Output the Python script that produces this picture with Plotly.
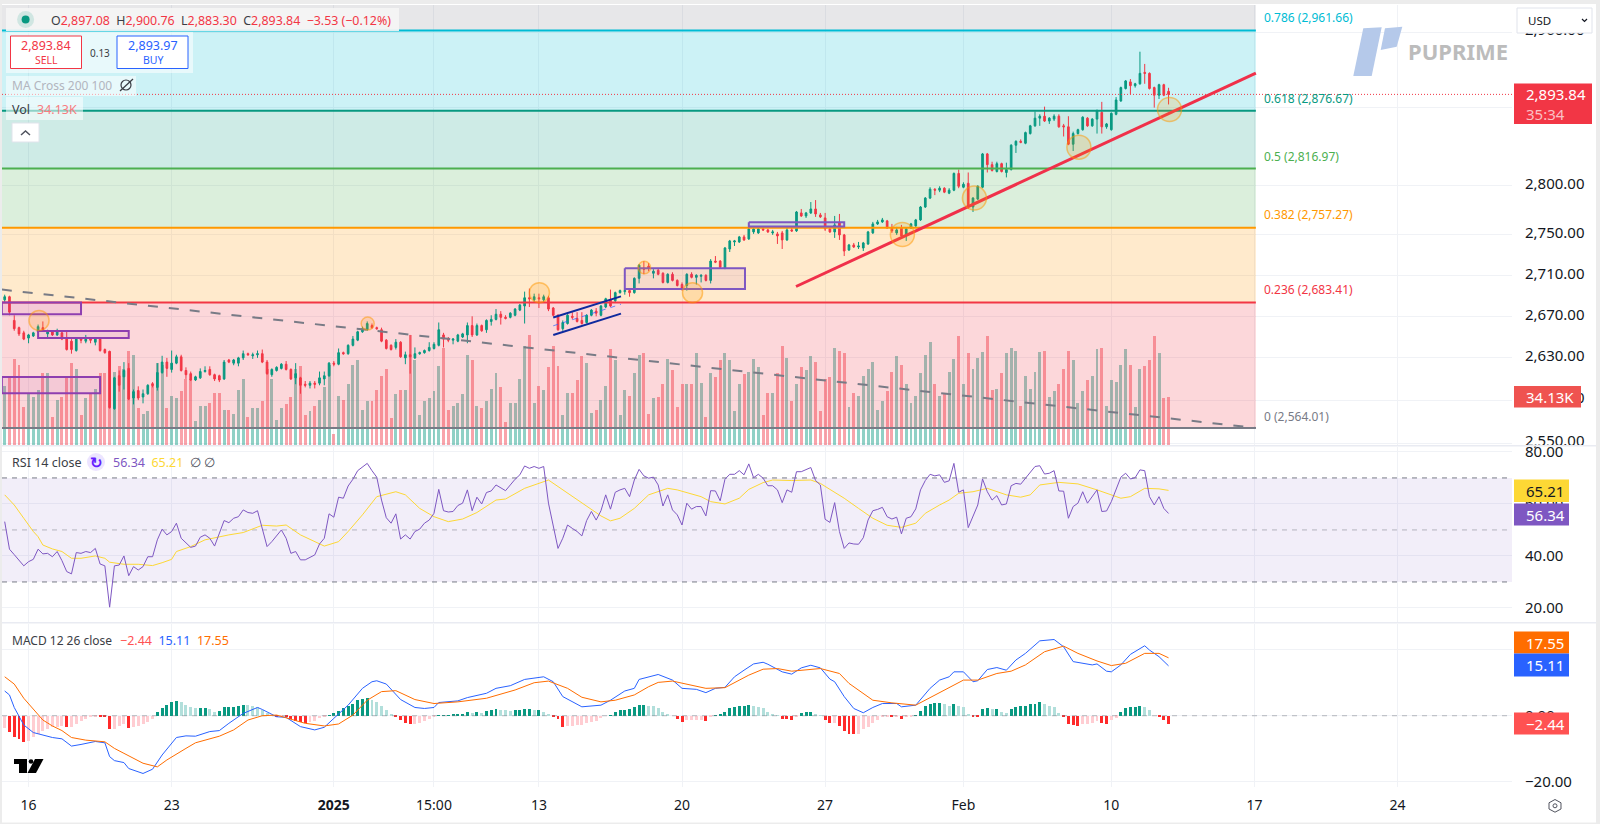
import plotly.graph_objects as go

# ---------- candle data (4H XAUUSD) ----------
opens = [2686,2689,2666,2659,2654,2649,2651,2655,2659,2653,2655,2652,2654,2649,2646,2637,2648,2646,2648,2645,
2648,2638,2636,2582,2613,2612,2620,2592,2599,2593,2596,2605,2602,2616,2626,2619,2625,2631,2618,2615,
2609,2611,2617,2619,2614,2613,2610,2628,2625,2625,2630,2634,2632,2633,2634,2626,2614,2618,2620,2624,
2619,2611,2611,2605,2604,2606,2606,2610,2613,2625,2624,2635,2634,2642,2647,2655,2657,2661,2659,2657,
2647,2642,2640,2645,2630,2633,2630,2634,2635,2637,2639,2642,2652,2648,2647,2646,2650,2652,2661,2652,
2661,2657,2665,2667,2672,2669,2669,2671,2676,2680,2688,2686,2688,2686,2688,2678,2671,2658,2663,2670,
2668,2666,2664,2671,2675,2671,2679,2686,2685,2693,2694,2695,2693,2707,2717,2719,2712,2715,2712,2703,
2711,2705,2701,2700,2711,2708,2709,2710,2705,2724,2724,2717,2736,2743,2743,2748,2746,2753,2752,2756,
2755,2752,2751,2752,2745,2755,2754,2772,2769,2772,2776,2770,2767,2756,2753,2762,2750,2735,2740,2738,
2737,2741,2752,2761,2763,2764,2757,2752,2757,2749,2757,2759,2765,2778,2787,2796,2795,2797,2792,2795,
2812,2798,2802,2778,2786,2798,2832,2821,2814,2822,2813,2816,2841,2845,2843,2853,2861,2869,2871,2866,
2868,2871,2861,2860,2842,2853,2857,2869,2861,2868,2875,2860,2857,2873,2887,2900,2907,2903,2905,2917,
2916,2901,2893,2904,2897.08]
highs = [2691,2690,2671,2660,2656,2653,2655,2662,2665,2657,2656,2658,2655,2655,2648,2649,2650,2652,2650,2650,
2650,2639,2637,2612,2618,2626,2625,2600,2603,2600,2605,2607,2625,2632,2630,2637,2633,2633,2621,2617,
2613,2620,2622,2622,2615,2614,2628,2629,2629,2631,2637,2635,2635,2637,2638,2628,2620,2622,2625,2627,
2620,2625,2612,2608,2608,2608,2617,2617,2626,2627,2639,2636,2643,2651,2656,2660,2665,2663,2660,2659,
2648,2643,2648,2646,2636,2652,2640,2636,2638,2645,2645,2664,2654,2650,2649,2653,2654,2664,2670,2663,
2662,2667,2671,2677,2675,2671,2674,2678,2682,2694,2697,2692,2692,2691,2690,2679,2672,2666,2672,2674,
2674,2674,2672,2677,2678,2681,2688,2696,2694,2696,2696,2696,2708,2721,2724,2722,2716,2717,2713,2712,
2713,2706,2703,2712,2713,2711,2711,2711,2726,2729,2725,2738,2745,2745,2749,2750,2760,2758,2757,2757,
2756,2755,2753,2754,2757,2757,2774,2776,2773,2783,2785,2772,2772,2757,2769,2771,2751,2741,2742,2743,
2743,2754,2763,2765,2767,2765,2761,2758,2760,2757,2762,2766,2779,2788,2798,2797,2799,2798,2797,2813,
2816,2803,2813,2788,2800,2833,2833,2824,2824,2823,2823,2842,2846,2847,2855,2862,2876,2873,2881,2870,
2873,2873,2863,2871,2855,2858,2871,2870,2869,2878,2886,2864,2875,2891,2902,2909,2910,2906,2939,2926,
2917,2902,2905,2905,2900.76]
lows = [2684,2671,2656,2651,2647,2644,2650,2654,2656,2649,2651,2651,2647,2637,2634,2636,2644,2644,2644,2642,
2636,2634,2582,2581,2598,2600,2590,2586,2590,2587,2595,2602,2599,2615,2612,2616,2624,2617,2610,2608,
2608,2610,2616,2613,2608,2607,2609,2625,2623,2622,2628,2632,2629,2630,2625,2614,2612,2617,2619,2618,
2609,2605,2596,2602,2601,2601,2604,2604,2612,2622,2623,2633,2633,2641,2646,2654,2656,2658,2657,2645,
2638,2637,2638,2630,2624,2615,2629,2633,2634,2636,2638,2641,2640,2645,2643,2645,2649,2644,2650,2651,
2655,2654,2661,2666,2662,2667,2668,2670,2675,2663,2679,2684,2678,2684,2675,2670,2656,2656,2662,2667,
2664,2662,2663,2670,2670,2670,2678,2679,2683,2692,2691,2689,2692,2702,2711,2714,2707,2710,2702,2702,
2704,2699,2695,2695,2707,2701,2703,2704,2702,2722,2717,2716,2733,2739,2742,2744,2745,2751,2751,2754,
2752,2750,2741,2736,2744,2753,2753,2768,2767,2771,2768,2767,2754,2752,2747,2745,2729,2734,2737,2736,
2734,2740,2751,2760,2762,2756,2752,2750,2747,2744,2756,2758,2764,2777,2786,2790,2793,2792,2791,2794,
2797,2797,2776,2773,2785,2797,2813,2814,2813,2813,2808,2815,2833,2843,2842,2852,2860,2861,2865,2863,
2866,2859,2850,2841,2835,2852,2856,2860,2860,2853,2853,2858,2856,2872,2886,2899,2894,2901,2904,2905,
2899,2880,2889,2892,2883.30]
closes = [2689,2674,2658,2653,2648,2652,2654,2660,2657,2655,2652,2656,2648,2638,2638,2648,2647,2648,2647,2648,
2637,2635,2583,2611,2604,2618,2591,2598,2592,2596,2604,2604,2616,2626,2620,2625,2631,2618,2614,2609,
2612,2617,2618,2614,2610,2609,2626,2626,2628,2630,2634,2633,2633,2634,2626,2615,2619,2621,2624,2619,
2610,2615,2604,2604,2606,2605,2611,2613,2625,2624,2635,2634,2642,2648,2655,2658,2663,2659,2658,2646,
2639,2638,2645,2631,2633,2631,2634,2635,2637,2640,2643,2657,2648,2647,2648,2652,2653,2661,2652,2661,
2656,2666,2667,2672,2669,2668,2673,2677,2681,2688,2687,2689,2687,2689,2677,2671,2657,2664,2671,2669,
2665,2663,2671,2676,2673,2680,2687,2680,2693,2695,2695,2693,2707,2720,2716,2717,2714,2711,2703,2711,
2705,2700,2697,2711,2708,2710,2710,2705,2724,2723,2718,2737,2744,2744,2748,2745,2756,2756,2756,2755,
2753,2753,2749,2745,2755,2754,2773,2769,2772,2776,2771,2768,2756,2753,2760,2750,2734,2740,2738,2739,
2742,2753,2761,2763,2765,2757,2754,2755,2749,2756,2761,2765,2778,2787,2796,2795,2797,2793,2795,2812,
2799,2801,2778,2787,2799,2832,2821,2815,2822,2814,2816,2841,2845,2844,2854,2861,2869,2871,2866,2869,
2871,2860,2860,2842,2853,2857,2870,2861,2868,2877,2860,2863,2874,2888,2901,2908,2903,2905,2916,2916,
2900,2893,2904,2893,2893.84]
volumes_k = [42,49,61,57,27,37,34,39,51,51,20,32,34,48,58,54,21,33,37,40,
51,51,67,52,56,54,67,64,26,22,24,44,58,57,26,35,33,38,47,47,
17,28,28,30,37,37,25,25,22,39,47,20,26,26,31,54,47,18,26,29,
34,54,56,21,24,28,32,41,57,8,35,32,43,57,60,25,31,31,39,49,
54,19,36,39,39,78,60,21,31,33,38,56,69,25,28,30,36,64,60,28,
26,31,40,51,41,16,30,30,47,70,78,30,42,39,55,70,56,21,37,37,
46,63,58,23,25,32,42,68,60,21,39,35,51,64,65,22,33,34,43,61,
53,27,43,43,43,65,44,20,51,48,60,65,60,24,43,50,52,61,55,21,
37,37,51,70,62,31,43,55,53,63,59,24,47,48,69,67,65,27,37,35,
49,54,59,25,31,38,52,63,57,43,30,35,51,64,73,43,35,37,52,61,
77,43,65,54,62,66,77,39,40,51,65,69,67,28,49,40,52,66,67,34,
38,43,54,67,60,30,38,46,49,68,69,28,46,45,57,68,57,27,54,56,
60,77,65,33,34.13]

# ---------- RSI / MACD data ----------
rsi_values = [53.2,42.6,40.5,38.3,36.2,37.8,38.7,42.6,40.8,41.0,39.7,41.7,38.2,34.0,33.1,41.3,41.0,41.7,41.3,42.9,
36.9,36.2,20.3,36.2,36.5,40.0,32.4,35.9,34.6,35.9,39.7,39.7,46.2,50.3,48.1,49.4,52.6,46.8,44.9,43.3,
43.8,47.2,48.1,46.8,43.8,48.7,53.6,52.8,54.5,55.1,57.7,56.7,56.4,57.4,50.6,43.6,45.5,47.7,50.0,46.8,
41.0,41.7,38.5,38.5,39.5,40.4,44.6,46.8,56.2,54.9,62.6,62.2,66.9,69.5,72.8,74.1,75.6,72.8,70.3,61.5,
54.7,52.6,56.2,46.5,48.1,46.5,49.4,50.3,52.6,53.8,56.4,65.6,57.4,56.9,57.1,59.4,60.3,65.4,57.4,62.6,
60.0,64.4,65.0,67.3,66.3,65.1,67.3,69.5,71.2,74.6,73.7,74.4,73.7,74.4,60.3,51.3,42.9,46.8,51.9,50.6,
49.4,47.7,53.6,57.1,53.8,57.4,63.5,58.0,64.5,65.4,66.0,62.8,69.2,73.3,70.8,69.9,70.3,67.3,59.2,63.5,
57.7,55.8,51.9,60.3,58.0,59.0,59.0,55.4,65.1,65.0,61.2,69.5,71.4,71.4,72.8,71.2,75.4,70.1,71.4,69.9,
67.0,67.0,65.4,60.5,65.4,64.5,72.4,72.4,73.1,74.0,69.0,67.3,54.1,52.9,60.5,49.4,42.9,45.0,44.6,44.5,
47.0,53.8,57.4,57.9,58.7,55.1,54.2,54.9,48.5,54.5,55.1,58.1,65.4,69.0,71.4,70.8,71.2,68.3,68.9,75.6,
64.5,65.4,50.9,55.4,59.6,69.6,64.7,61.5,63.2,59.6,60.0,67.0,67.9,67.6,69.9,71.8,74.4,74.7,71.5,71.8,
72.8,65.0,64.9,54.5,59.0,60.3,64.7,60.3,62.8,65.4,57.1,57.3,60.9,65.4,70.3,71.8,69.6,70.1,73.1,72.8,
62.8,59.6,62.8,58.3,56.34]
rsi_ma_index = [0,2,4,6,7,8,10,12,14,16,19,21,22,25,28,31,33,35,36,39,42,45,47,50,54,57,59,62,67,70,72,75,78,82,84,87,90,93,96,99,103,105,109,114,117,120,123,
125,127,129,132,135,139,141,146,148,151,154,156,159,161,165,169,171,173,176,179,182,185,188,191,193,196,198,200,203,206,210,213,215,217,221,225,229,234,236,239,242,244]
rsi_ma_values = [63.5,59.6,54.5,49.4,47.4,44.2,42.7,41.7,39.1,39.1,40.0,39.1,37.6,36.8,36.8,36.3,37.4,38.7,41.7,43.6,46.2,47.4,48.1,49.0,51.8,51.5,51.9,48.1,43.8,45.5,49.4,55.8,62.8,64.7,63.5,58.3,55.1,53.2,54.2,56.7,61.5,61.9,66.0,69.2,65.4,61.8,57.7,
55.4,53.5,54.5,58.3,63.5,66.0,65.4,62.8,60.9,60.0,62.2,65.6,68.2,69.2,69.0,69.2,67.9,65.6,62.2,58.3,54.5,51.8,51.0,52.6,56.4,59.6,61.5,64.1,64.7,66.0,63.5,62.6,63.5,67.3,68.3,67.7,65.4,62.2,62.8,66.0,65.8,65.21]
macd_index = [0,1,2,4,6,8,10,12,14,16,19,21,22,23,25,26,29,31,33,36,38,40,43,45,47,50,53,54,57,59,62,65,67,69,72,75,77,78,80,83,86,88,90,91,95,97,101,103,106,109,113,115,117,121,
125,127,130,132,133,137,140,142,145,147,149,151,153,155,157,159,160,163,165,167,169,171,173,174,176,178,180,182,184,187,188,191,194,196,198,199,201,203,204,206,208,210,212,214,217,220,222,224,228,229,231,232,234,236,239,240,242,244]
macd_values = [7.5,6.3,2.5,-2.8,-5.1,-5.9,-6.6,-7.0,-9.2,-8.7,-7.8,-8.2,-12.4,-13.6,-14.2,-16.0,-17.5,-16.2,-11.9,-6.6,-6.1,-6.2,-4.8,-4.5,-2.3,0.7,2.5,1.9,-0.3,-0.5,-3.3,-4.3,-3.5,-0.8,3.2,8.3,10.3,10.6,9.6,4.9,2.5,2.2,2.5,4.0,4.5,5.5,6.8,8.3,9.1,11.0,11.8,10.3,5.8,2.7,
3.2,4.7,7.5,8.3,11.0,12.5,10.8,8.3,8.0,7.0,8.3,8.6,11.8,13.8,15.7,16.2,15.6,13.3,12.6,14.5,15.3,14.5,11.1,10.3,5.8,2.2,0.9,2.5,3.7,3.7,2.7,3.2,8.3,10.8,11.8,13.3,13.3,10.3,10.6,14.0,14.6,13.8,16.9,18.9,22.7,23.1,20.9,16.4,15.4,15.7,13.5,13.3,15.4,18.6,21.2,19.9,17.9,15.11]
signal_index = [0,2,4,6,8,10,12,14,17,21,23,25,29,32,34,38,40,45,48,51,54,57,60,63,67,70,73,76,79,82,86,90,95,101,107,111,114,118,121,
125,128,132,135,137,140,147,151,156,159,162,165,171,175,177,182,186,191,195,201,204,208,211,214,218,222,225,229,232,235,239,242,244]
signal_values = [11.8,9.6,5.3,1.9,-1.3,-3.1,-4.5,-6.6,-7.4,-7.9,-9.9,-11.4,-14.4,-15.5,-13.4,-9.9,-8.2,-6.2,-4.3,-1.3,0.0,0.2,-1.1,-2.3,-3.1,-2.5,0.2,4.7,7.3,7.6,4.9,3.7,4.2,5.3,7.8,10.0,10.5,8.3,5.6,
4.2,4.7,6.3,8.8,10.1,10.5,8.3,8.5,12.3,14.1,14.3,13.5,14.3,12.8,9.8,4.7,3.9,3.2,6.3,10.8,10.8,12.8,13.5,15.4,19.4,21.1,18.9,16.6,15.2,15.9,18.9,18.9,17.55]
hist_values = [-3.8,-5.0,-6.4,-7.2,-7.9,-7.6,-6.4,-5.4,-4.5,-4.0,-3.5,-3.3,-3.1,-3.5,-3.5,-2.6,-1.6,-0.9,-0.3,-0.1,
-0.3,-0.5,-4.0,-4.0,-3.1,-2.5,-3.8,-3.5,-3.1,-2.6,-1.8,-1.1,1.0,2.4,3.4,4.2,4.6,4.2,3.2,2.7,
2.2,2.2,2.2,1.9,1.2,1.5,2.5,2.5,2.7,3.1,3.3,3.2,3.0,2.5,1.7,0.9,0.2,-0.2,-0.1,-0.5,
-1.1,-1.5,-1.8,-2.1,-2.0,-1.6,-0.8,-0.4,0.2,0.7,1.4,2.4,3.0,3.7,4.7,5.0,5.5,4.9,4.2,2.9,
1.7,0.3,-0.1,-1.3,-2.3,-2.5,-2.5,-2.1,-1.6,-1.1,-0.3,0.2,0.2,0.2,0.3,0.4,0.6,1.1,0.7,1.2,
0.9,1.5,1.7,1.9,1.7,1.6,1.5,1.7,1.7,1.9,1.9,1.7,1.7,1.2,0.3,-0.1,-1.1,-3.3,-3.1,-3.1,
-2.8,-2.8,-2.3,-1.8,-1.6,-0.8,0.0,0.2,1.2,1.6,1.8,1.9,2.5,3.3,3.3,3.1,2.9,2.2,1.0,0.4,
0.0,-1.1,-1.8,-1.3,-1.3,-1.3,-1.3,-1.7,-0.3,0.2,0.4,1.2,2.2,2.7,3.0,3.0,3.4,2.9,2.7,2.2,
1.2,0.5,0.1,-0.9,-1.1,-1.2,-0.1,0.7,1.0,1.0,0.6,0.1,-1.3,-2.3,-2.3,-3.1,-4.5,-5.4,-5.6,-5.4,
-4.1,-3.5,-2.3,-1.3,-0.5,-0.3,-0.4,-0.2,-0.9,-0.4,-0.2,0.2,1.3,2.9,3.5,3.9,3.9,3.5,2.9,3.5,
2.9,2.5,0.3,-0.1,-0.5,1.9,2.2,1.9,1.9,1.2,0.7,1.9,2.5,2.9,2.9,3.5,3.7,4.2,3.5,2.9,
2.5,0.9,-0.2,-2.5,-2.8,-3.1,-2.5,-2.5,-2.1,-1.6,-2.3,-2.5,-1.3,-0.6,1.0,2.2,2.5,2.5,3.0,2.7,
1.7,0.0,-0.4,-1.3,-2.44]

# ---------- fibonacci levels and drawings ----------
fib_ratios = ["0.786", "0.618", "0.5", "0.382", "0.236", "0"]
fib_levels = [2961.66, 2876.67, 2816.97, 2757.27, 2683.41, 2564.01]
fib_colors = ["#00bcd4", "#089981", "#4caf50", "#ff9800", "#f23645", "#787b86"]
price_ticks = [2550, 2590, 2630, 2670, 2710, 2750, 2800, 2880, 2960]
price_tick_labels = ["2,550.00", "2,590.00", "2,630.00", "2,670.00", "2,710.00", "2,750.00", "2,800.00", "", "2,960.00"]
rsi_ticks = [20, 40, 60, 80]
rsi_tick_labels = ["20.00", "40.00", "60.00", "80.00"]
macd_ticks = [-20, 0, 20]
macd_tick_labels = ["−20.00", "0.00", ""]
time_tick_index = [5, 35, 69, 90, 112, 142, 172, 201, 232, 262, 292]
time_tick_labels = ["16", "23", "<b>2025</b>", "15:00", "13", "20", "27", "Feb", "10", "17", "24"]
circle_index = [7.2, 76.1, 112.1, 134.1, 144.2, 188.2, 203.3, 225.2, 244.2]
circle_price = [2666, 2663, 2693, 2717.6, 2693, 2750.4, 2787, 2839, 2878]
circle_size = [20, 13, 20, 12.5, 20, 24, 24, 24, 24]
box_index = [(-0.6, 16), (7, 26), (-0.6, 20), (130, 155.2), (156, 176)]
box_price = [(2683.4, 2672), (2655.7, 2649), (2611.8, 2596.5), (2716.9, 2696.5), (2762.7, 2758.3)]
box_colors = ["#8e3fb0", "#8e3fb0", "#8e3fb0", "#7e57c2", "#7e57c2"]
trend_down_index = [-0.6, 262.3]
trend_down_price = [2696, 2564]
trend_up_index = [165.9, 262.3]
trend_up_price = [2699, 2916.3]
channel_index = [115, 129.2]
channel_upper = [2668.8, 2689.4]
channel_lower = [2651.9, 2672.6]
channel_mid = [2660.8, 2681.7]
last_price = 2893.84

# ---------- page geometry helpers (page furniture only) ----------
W, H = 1600, 824
px = lambda x: x / W
py = lambda y: 1 - y / H
X_L, X_R = -0.566, 316.0
FIB_END = 262.3
FONT = "Noto Sans"
idx = list(range(len(closes)))

fig = go.Figure()

# volume sits beneath the fibonacci fills
vol_cols = ["rgba(8,153,129,0.45)" if c >= o else "rgba(242,54,69,0.45)" for o, c in zip(opens, closes)]
fig.add_trace(go.Bar(x=idx, y=volumes_k, width=0.62, marker=dict(color=vol_cols, line_width=0), xaxis="x", yaxis="y", hoverinfo="skip"))

# fibonacci fills
fills = [(3000, fib_levels[0], "rgba(120,123,134,0.18)")]
fill_cols = ["rgba(0,188,212,0.2)", "rgba(8,153,129,0.2)", "rgba(76,175,80,0.2)", "rgba(255,152,0,0.2)", "rgba(242,54,69,0.2)"]
for a, b, c in zip(fib_levels[:-1], fib_levels[1:], fill_cols):
    fills.append((a, b, c))
for a, b, c in fills:
    fig.add_trace(go.Scatter(x=[X_L, FIB_END, FIB_END, X_L, X_L], y=[a, a, b, b, a], fill="toself", fillcolor=c,
                             mode="none", xaxis="x", yaxis="y2", hoverinfo="skip"))

# candles
fig.add_trace(go.Candlestick(x=idx, open=opens, high=highs, low=lows, close=closes, xaxis="x", yaxis="y3",
                             increasing=dict(line=dict(color="#089981", width=1), fillcolor="#089981"),
                             decreasing=dict(line=dict(color="#f23645", width=1), fillcolor="#f23645"),
                             whiskerwidth=0, hoverinfo="skip"))

def line3(x, y, color, width, dash="solid"):
    fig.add_trace(go.Scatter(x=x, y=y, mode="lines", line=dict(color=color, width=width, dash=dash), xaxis="x", yaxis="y3", hoverinfo="skip"))

# fib lines
for lv, c in zip(fib_levels, fib_colors):
    line3([X_L, FIB_END], [lv, lv], c, 2)
# boxes
for (i0, i1), (p0, p1), bc in zip(box_index, box_price, box_colors):
    fig.add_trace(go.Scatter(x=[i0, i1, i1, i0, i0], y=[p0, p0, p1, p1, p0], mode="lines", fill="toself",
                             fillcolor="rgba(156,39,176,0.08)", line=dict(color=bc, width=2), xaxis="x", yaxis="y3", hoverinfo="skip"))
# trend lines
line3(trend_down_index, trend_down_price, "#787b86", 2, "10px,11px")
line3(channel_index, channel_upper, "#0f2a9e", 2)
line3(channel_index, channel_lower, "#0f2a9e", 2)
line3(channel_index, channel_mid, "rgba(41,98,255,0.7)", 1, "5px,5px")
line3(trend_up_index, trend_up_price, "#f0304a", 3)
line3([X_L, X_R], [last_price, last_price], "#f23645", 1, "1px,2px")
# circles
fig.add_trace(go.Scatter(x=circle_index, y=circle_price, mode="markers", xaxis="x", yaxis="y3", hoverinfo="skip",
                         marker=dict(size=circle_size, color="rgba(255,152,0,0.25)", line=dict(color="rgba(255,152,0,0.75)", width=1.5))))

# RSI pane
fig.add_trace(go.Scatter(x=[X_L, X_R, X_R, X_L, X_L], y=[70, 70, 30, 30, 70], fill="toself", fillcolor="rgba(126,87,194,0.1)",
                         mode="none", xaxis="x2", yaxis="y4", hoverinfo="skip"))
for lv, col in [(70, "#787b86"), (50, "rgba(120,123,134,0.5)"), (30, "#787b86")]:
    fig.add_trace(go.Scatter(x=[X_L, X_R], y=[lv, lv], mode="lines", line=dict(color=col, width=1, dash="5px,5px"), xaxis="x2", yaxis="y4", hoverinfo="skip"))
fig.add_trace(go.Scatter(x=rsi_ma_index, y=rsi_ma_values, mode="lines", line=dict(color="#fdd835", width=1), xaxis="x2", yaxis="y4", hoverinfo="skip"))
fig.add_trace(go.Scatter(x=idx, y=rsi_values, mode="lines", line=dict(color="#7e57c2", width=1), xaxis="x2", yaxis="y4", hoverinfo="skip"))

# MACD pane
hist_cols = []
for k, v in enumerate(hist_values):
    prev = hist_values[k - 1] if k else v
    if v >= 0:
        hist_cols.append("#089981" if v >= prev else "#b2dfdb")
    else:
        hist_cols.append("#ffcdd2" if v >= prev else "#ff2a2a")
fig.add_trace(go.Scatter(x=[X_L, X_R], y=[0, 0], mode="lines", line=dict(color="rgba(120,123,134,0.5)", width=1, dash="5px,5px"), xaxis="x3", yaxis="y5", hoverinfo="skip"))
fig.add_trace(go.Bar(x=idx, y=hist_values, width=0.62, marker=dict(color=hist_cols, line_width=0), xaxis="x3", yaxis="y5", hoverinfo="skip"))
fig.add_trace(go.Scatter(x=macd_index, y=macd_values, mode="lines", line=dict(color="#2962ff", width=1), xaxis="x3", yaxis="y5", hoverinfo="skip"))
fig.add_trace(go.Scatter(x=signal_index, y=signal_values, mode="lines", line=dict(color="#ff6d00", width=1), xaxis="x3", yaxis="y5", hoverinfo="skip"))

# ---------- page furniture ----------
shapes = []
def rect(x0, y0, x1, y1, fill="white", line=None, lw=1, layer="above"):
    shapes.append(dict(type="rect", xref="paper", yref="paper", x0=px(x0), x1=px(x1), y0=py(y0), y1=py(y1), layer=layer,
                       fillcolor=fill, line=dict(color=line or "rgba(0,0,0,0)", width=lw if line else 0)))
def poly(pts, fill=None, line=None, lw=1, close=True):
    d = "M" + " L".join(f"{px(a):.5f},{py(b):.5f}" for a, b in pts) + (" Z" if close else "")
    shapes.append(dict(type="path", xref="paper", yref="paper", path=d, layer="above", fillcolor=fill or "rgba(0,0,0,0)",
                       line=dict(color=line or "rgba(0,0,0,0)", width=lw if line else 0)))
def circ(cx, cy, r, fill=None, line=None, lw=1):
    shapes.append(dict(type="circle", xref="paper", yref="paper", x0=px(cx - r), x1=px(cx + r), y0=py(cy - r), y1=py(cy + r), layer="above",
                       fillcolor=fill or "rgba(0,0,0,0)", line=dict(color=line or "rgba(0,0,0,0)", width=lw if line else 0)))

rect(2, 4, 1596, 822.5, "white", layer="below")
rect(2, 445, 1596, 446.5, "#e9ebf2")
rect(2, 622, 1596, 623.5, "#e9ebf2")
# legend backgrounds
LB = "rgba(255,255,255,0.55)"
rect(6, 8, 399, 31, "rgba(245,245,245,0.9)")
rect(6, 32, 193, 73, LB)
rect(6, 76, 136, 96, LB)
rect(6, 97, 83, 120, LB)
# order boxes
rect(10.5, 36, 81.5, 68.5, "white", "#f23645", 1)
rect(117, 36, 188, 68.5, "white", "#2962ff", 1)
rect(12, 123, 39, 142, "white", "#e0e3eb", 1)
poly([(21, 135), (25.5, 131), (30, 135)], line="#50535e", lw=1.5, close=False)
# status dot
circ(25.6, 19.6, 8.5, "rgba(8,153,129,0.15)")
circ(25.6, 19.6, 4, "#089981")
# eye icon
circ(126, 85, 5, None, "#3a3d45", 1.2)
poly([(120, 91), (133, 79)], line="#3a3d45", lw=1.3, close=False)
# USD box
rect(1517, 8, 1592, 33, "white", "#e0e3eb", 1)
poly([(1582, 19), (1584.5, 21.5), (1587, 19)], line="#131722", lw=1.2, close=False)
# broker logo
poly([(1363.3, 28.3), (1381.7, 27.3), (1371.7, 76), (1353.3, 76)], "#b5c9ea")
poly([(1385, 28.3), (1402.3, 26.7), (1396.7, 46.7), (1380.7, 50)], "#b5c9ea")
# chart-library logo
poly([(14, 759), (27, 759), (27, 773), (19, 773), (19, 764), (14, 764)], "#000000")
circ(31, 761.5, 2.3, "#000000")
poly([(35, 759), (43.5, 759), (36, 773), (27.5, 773)], "#000000")
# settings icon
poly([(1555, 799.5), (1561, 802.8), (1561, 809), (1555, 812.2), (1549, 809), (1549, 802.8)], line="#50535e", lw=1)
circ(1555, 805.8, 2, None, "#50535e", 1)
# RSI icon
circ(96, 462, 9, "rgba(101,31,255,0.12)")

ann = []
def text(x, y, s, color="#131722", size=13, anchor="left", bold=False):
    ann.append(dict(xref="paper", yref="paper", x=px(x), y=py(y), text=f"<b>{s}</b>" if bold else s, showarrow=False,
                    xanchor=anchor, yanchor="middle", font=dict(color=color, size=size, family=FONT), borderpad=0, align="left"))
def tag(x0, y0, x1, y1, s, bg, color="white", size=15):
    rect(x0, y0, x1, y1, bg)
    ann.append(dict(xref="paper", yref="paper", x=px(x0 + 10), y=py((y0 + y1) / 2), text=s, showarrow=False, xanchor="left", yanchor="middle",
                    font=dict(color=color, size=size, family=FONT), align="left"))

R = "#f23645"
def sp(c, s):
    return f'<span style="color:{c}">{s}</span>'
text(50, 20.5, "O" + sp(R, "2,897.08") + "  H" + sp(R, "2,900.76") + "  L" + sp(R, "2,883.30") + "  C" + sp(R, "2,893.84") + "  " + sp(R, "−3.53 (−0.12%)"), "#3a3d45", 12.4)
text(46, 46, "2,893.84", R, 12.5, "center")
text(46, 60, "SELL", R, 10.5, "center")
text(99.5, 53, "0.13", "#3a3d45", 10, "center")
text(153, 46, "2,893.97", "#2962ff", 12.5, "center")
text(153, 60, "BUY", "#2962ff", 10.5, "center")
text(11, 85, "MA Cross 200 100", "#b2b5be", 12)
text(11, 109, "Vol", "#3a3d45", 12.5)
text(36, 109, "34.13K", "#f77c80", 12.5)
text(10.5, 462, "RSI 14 close", "#3a3d45", 12.5)
text(96, 462, "↻", "#651fff", 15, "center", True)
text(112, 462, sp("#7e57c2", "56.34") + "  " + sp("#fdd835", "65.21") + "  " + sp("#50535e", "∅ ∅"), "#7e57c2", 12.5)
text(10.5, 640, "MACD 12 26 close", "#3a3d45", 12)
text(119, 640, sp("#ff5252", "−2.44") + "  " + sp("#2962ff", "15.11") + "  " + sp("#ff6d00", "17.55"), "#ff5252", 12.5)
text(1527, 20.5, "USD", "#131722", 11.5)
text(1407, 51, "PUPRIME", "#bcbcbc", 22, bold=True)
fib_y = [18, 98, 157, 215, 290, 416]
for r, lv, c, yy in zip(fib_ratios, fib_levels, fib_colors, fib_y):
    text(1263, yy, f"{r} ({lv:,.2f})", c, 12)

tag(1514, 83.5, 1592, 124, '2,893.84<br><span style="color:rgba(255,255,255,0.7)">35:34</span>', "#f23645")
tag(1514, 386, 1581, 407.5, "34.13K", "#ef5350")
tag(1514, 479.5, 1569, 502, "65.21", "#fdd835", "#131722")
tag(1514, 503.5, 1569, 525.5, "56.34", "#7e57c2")
tag(1514, 631.5, 1569, 653.5, "17.55", "#ff6d00")
tag(1514, 653.5, 1569, 676.5, "15.11", "#2962ff")
tag(1514, 712.5, 1569, 734.5, "−2.44", "#ff5252")

GRID = "#f0f2f6"
tickfont = dict(family=FONT, size=15, color="#131722")
def yax(dom, rng, tickv, tickt, typ="linear"):
    return dict(domain=dom, range=rng, type=typ, side="right", anchor=None, tickvals=tickv, ticktext=tickt, showgrid=True, gridcolor=GRID, gridwidth=1,
                zeroline=False, ticks="outside", ticklen=9, tickcolor="rgba(0,0,0,0)", tickfont=tickfont, showline=False, fixedrange=True)
def xax(y_anchor, labels=False):
    return dict(domain=[px(2), px(1512)], range=[X_L, X_R], anchor=y_anchor, tickmode="array", tickvals=time_tick_index, ticktext=time_tick_labels,
                showticklabels=labels, showgrid=True, gridcolor=GRID, gridwidth=1, zeroline=False, showline=False, fixedrange=True,
                ticks="outside" if labels else "", ticklen=5, tickcolor="rgba(0,0,0,0)", tickfont=dict(family=FONT, size=14, color="#131722"), rangeslider=dict(visible=False))

LOG_RANGE = [3.40623, 3.47556]
dom_main = [py(445), py(5)]
dom_rsi = [py(622), py(447)]
dom_macd = [py(787), py(624)]
ya = dict(domain=dom_main, range=[0, 312], visible=False, anchor="x", fixedrange=True)
y2 = yax(dom_main, LOG_RANGE, price_ticks, price_tick_labels, "log"); y2["anchor"] = "x"; y2["overlaying"] = "y"; y2["ticklabelshift"] = -2
y3 = dict(overlaying="y", range=LOG_RANGE, type="log", visible=False, anchor="x", fixedrange=True)
y4 = yax(dom_rsi, [14.6, 81.9], rsi_ticks, rsi_tick_labels); y4["anchor"] = "x2"
y5 = yax(dom_macd, [-21.6, 27.8], macd_ticks, macd_tick_labels); y5["anchor"] = "x3"

fig.update_layout(width=W, height=H, margin=dict(l=0, r=0, t=0, b=0, pad=0, autoexpand=False), autosize=False, showlegend=False, dragmode=False,
                  paper_bgcolor="#ececec", plot_bgcolor="rgba(0,0,0,0)", font=dict(family=FONT),
                  xaxis=xax("y"), xaxis2=xax("y4"), xaxis3=xax("y5", True),
                  yaxis=ya, yaxis2=y2, yaxis3=y3, yaxis4=y4, yaxis5=y5,
                  shapes=shapes, annotations=ann, bargap=0, boxgap=0.5, hovermode=False)

fig.write_html("out.html", config=dict(displayModeBar=False, responsive=False),
               post_script="document.body.style.margin='0';document.body.style.overflow='hidden';")
